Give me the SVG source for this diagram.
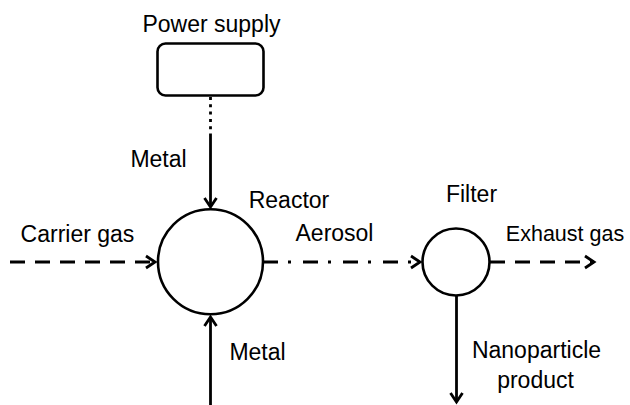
<svg xmlns="http://www.w3.org/2000/svg" width="630" height="405" viewBox="0 0 630 405">
<style>
  text { font-family: "Liberation Sans", Arial, sans-serif; font-size: 23px; fill: #000; text-anchor: middle; }
  .shape { fill: #fff; stroke: #000; stroke-width: 2.6; }
  .ln { fill: none; stroke: #000; stroke-width: 2.8; }
  .dash { stroke-dasharray: 15 10; }
  .dashdot { stroke-dasharray: 15 10 3 12; }
  .dot { stroke-dasharray: 3 4.3; }
</style>
<defs>
  <marker id="arr" markerUnits="userSpaceOnUse" markerWidth="20" markerHeight="20" viewBox="-12 -10 14 20" refX="0" refY="0" orient="auto">
    <path d="M-9,-6 L0,0 L-9,6" fill="none" stroke="#000" stroke-width="2.8" stroke-linejoin="miter"/>
  </marker>
</defs>
<g id="connectors">
  <line class="ln dot" x1="210.5" y1="97" x2="210.5" y2="136"/>
  <line class="ln" x1="210.5" y1="136" x2="210.5" y2="207" marker-end="url(#arr)"/>
  <line class="ln" x1="210.5" y1="405" x2="210.5" y2="317" marker-end="url(#arr)"/>
  <line class="ln dash" x1="10" y1="262" x2="155" y2="262" marker-end="url(#arr)"/>
  <line class="ln dashdot" x1="263" y1="262" x2="420" y2="262" marker-end="url(#arr)"/>
  <line class="ln dash" x1="490" y1="262" x2="594" y2="262" marker-end="url(#arr)"/>
  <line class="ln" x1="456.5" y1="295" x2="456.5" y2="402" marker-end="url(#arr)"/>
</g>
<g id="power-supply">
  <rect class="shape" x="157.5" y="43.5" width="106" height="52" rx="8"/>
  <text x="211.5" y="32">Power supply</text>
</g>
<g id="reactor">
  <circle class="shape" cx="210.5" cy="261.7" r="52.5"/>
  <text x="289" y="208">Reactor</text>
</g>
<g id="filter">
  <circle class="shape" cx="456" cy="262" r="33.5"/>
  <text x="471.5" y="202">Filter</text>
</g>
<g id="labels">
  <text x="158.5" y="167">Metal</text>
  <text x="77.5" y="242">Carrier gas</text>
  <text x="257.5" y="360">Metal</text>
  <text x="334.5" y="241">Aerosol</text>
  <text x="565" y="241" style="font-size:21.5px">Exhaust gas</text>
  <text x="536.5" y="358">Nanoparticle</text>
  <text x="535.5" y="388">product</text>
</g>
</svg>
